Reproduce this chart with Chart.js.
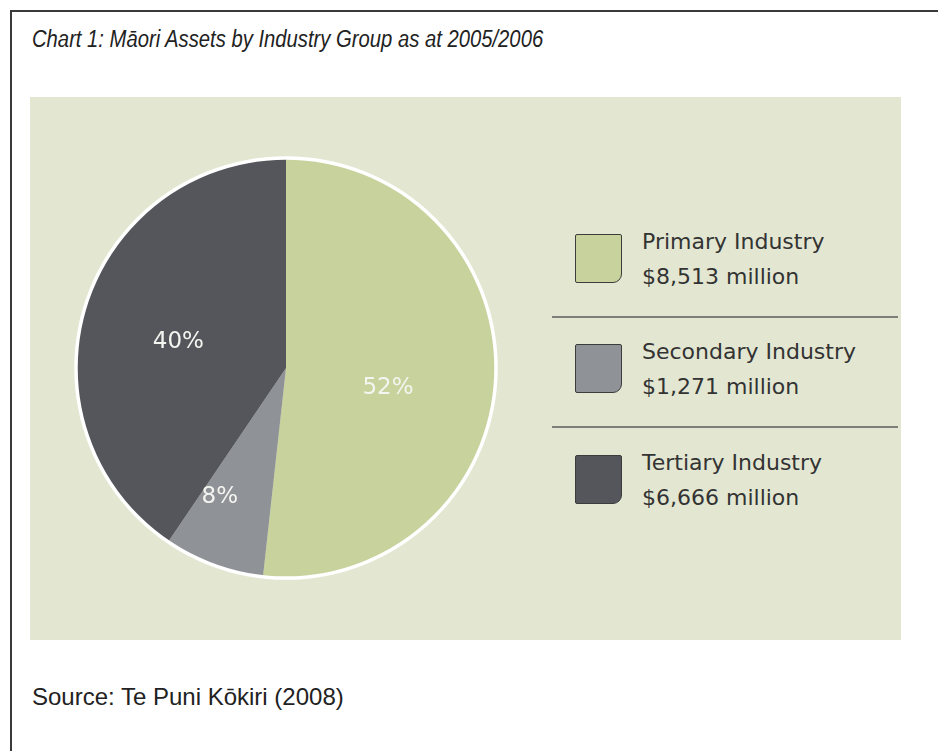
<!DOCTYPE html>
<html>
<head>
<meta charset="utf-8">
<script src="https://cdn.jsdelivr.net/npm/chart.js@4/dist/chart.umd.min.js"></script>
<style>
  html, body { margin: 0; padding: 0; background: #ffffff; }
  body { width: 938px; height: 751px; position: relative; overflow: hidden; }
  #frame { position: absolute; left: 10px; top: 10px; width: 940px; height: 760px;
           border-left: 2px solid #3a3a3a; border-top: 2px solid #3a3a3a; }
  #title { position: absolute; left: 32px; top: 26px; font-family: "Liberation Sans", Arial, sans-serif;
           font-style: italic; font-size: 23px; color: #222; white-space: nowrap;
           transform: scaleX(0.88); transform-origin: 0 0; }
  #panel { position: absolute; left: 30px; top: 97px; width: 871px; height: 543px; background: #e3e7d2; }
  #chartBox { position: absolute; left: 66px; top: 148px; width: 440px; height: 440px; }
  #source { position: absolute; left: 32px; top: 683px; font-family: "Liberation Sans", Arial, sans-serif;
            font-size: 24px; color: #222; white-space: nowrap; }
  .row { position: absolute; left: 575px; width: 330px; height: 52px; }
  .sw { position: absolute; left: 0; top: 0; width: 47px; height: 49px; border: 1.5px solid #3c3c3c;
        border-radius: 2px 2px 9px 2px; box-sizing: border-box; }
  .txt { position: absolute; left: 67px; top: -10px; font-family: "DejaVu Sans", sans-serif;
         font-size: 22px; line-height: 35px; color: #333; white-space: nowrap; }
  .divider { position: absolute; left: 552px; width: 346px; height: 2px; background: #7d7f7a; }
</style>
</head>
<body>
<div id="frame"></div>
<div id="title">Chart 1: Māori Assets by Industry Group as at 2005/2006</div>
<div id="panel"></div>
<div id="chartBox"><canvas id="c" width="440" height="440"></canvas></div>
<div id="legend"></div>
<div class="divider" style="top:316px"></div>
<div class="divider" style="top:426px"></div>
<div id="source">Source: Te Puni Kōkiri (2008)</div>
<script>
// ---- data ----
const categories = ["Primary Industry", "Secondary Industry", "Tertiary Industry"];
const valuesMillions = [8513, 1271, 6666];
const valueLabels = ["$8,513 million", "$1,271 million", "$6,666 million"];
const percentLabels = ["52%", "8%", "40%"];
const sliceColors = ["#c8d29c", "#8f9297", "#54565b"];

// ---- legend (HTML) ----
const legendTops = [234, 344, 455];
const legend = document.getElementById('legend');
categories.forEach((cat, i) => {
  const row = document.createElement('div');
  row.className = 'row';
  row.style.top = legendTops[i] + 'px';
  const sw = document.createElement('div');
  sw.className = 'sw';
  sw.style.background = sliceColors[i];
  const t = document.createElement('div');
  t.className = 'txt';
  t.innerHTML = cat + '<br>' + valueLabels[i];
  row.appendChild(sw); row.appendChild(t);
  legend.appendChild(row);
});

// ---- percent labels plugin ----
const labelRadius = [0.495, 0.69, 0.527];
const labelAngleShift = [8, 7, -3.5]; // degrees
const pctLabels = {
  id: 'pctLabels',
  afterDatasetsDraw(chart) {
    const ctx = chart.ctx;
    const meta = chart.getDatasetMeta(0);
    ctx.save();
    ctx.fillStyle = '#f4f4f0';
    ctx.font = '23px "DejaVu Sans", sans-serif';
    ctx.textAlign = 'center';
    ctx.textBaseline = 'middle';
    meta.data.forEach((arc, i) => {
      const p = arc.getProps(['x', 'y', 'startAngle', 'endAngle', 'outerRadius'], true);
      const mid = (p.startAngle + p.endAngle) / 2 + labelAngleShift[i] * Math.PI / 180;
      const r = p.outerRadius * labelRadius[i];
      ctx.fillText(percentLabels[i], p.x + Math.cos(mid) * r, p.y + Math.sin(mid) * r);
    });
    ctx.restore();
  }
};

new Chart(document.getElementById('c'), {
  type: 'pie',
  data: {
    labels: categories,
    datasets: [{
      data: valuesMillions,
      backgroundColor: sliceColors,
      borderWidth: 0,
      hoverOffset: 0
    }]
  },
  options: {
    responsive: false,
    animation: false,
    layout: { padding: 10 },
    plugins: { legend: { display: false }, tooltip: { enabled: false } }
  },
  plugins: [pctLabels, {
    id: 'ring',
    afterDatasetsDraw(chart) {
      const arc = chart.getDatasetMeta(0).data[0];
      const ctx = chart.ctx;
      ctx.save();
      ctx.strokeStyle = '#ffffff';
      ctx.lineWidth = 3.5;
      ctx.beginPath();
      ctx.arc(arc.x, arc.y, arc.outerRadius, 0, Math.PI * 2);
      ctx.stroke();
      ctx.restore();
    }
  }]
});
</script>
</body>
</html>
